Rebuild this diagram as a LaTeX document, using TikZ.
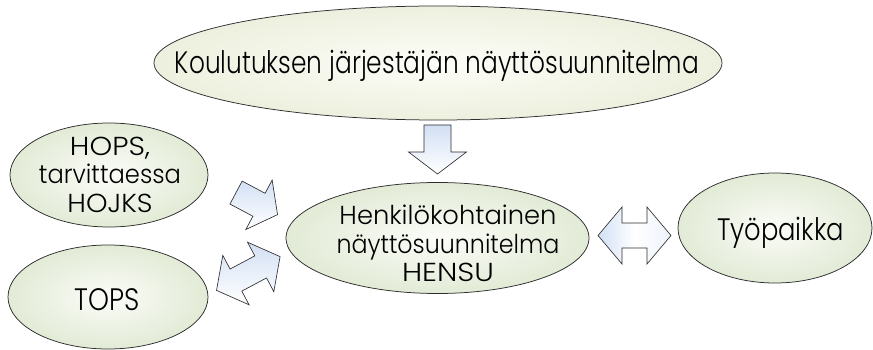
\documentclass[tikz,border=0pt]{standalone}
\usepackage{fontspec}
\setmainfont{Poppins Light}
\usepackage{graphicx}
\usetikzlibrary{shapes.geometric}
\definecolor{edgegray}{RGB}{45,45,45}
\definecolor{ovalin}{RGB}{251,252,248}
\definecolor{ovalout}{RGB}{226,235,214}
\definecolor{topin}{RGB}{253,253,248}
\definecolor{topout}{RGB}{237,240,222}
\definecolor{arrowblue}{RGB}{210,224,244}
\newcommand{\fw}[2]{\resizebox{#1pt}{\height}{#2}}
\tikzset{
  oval/.style={ellipse, draw=edgegray, line width=0.75pt, inner sep=0pt,
    shading=radial, inner color=ovalin, outer color=ovalout},
  topoval/.style={oval, inner color=topin, outer color=topout},
  bigtxt/.style={font=\fontsize{31}{34}\selectfont, inner sep=0pt, text=black},
  smalltxt/.style={font=\fontsize{26}{28.5}\selectfont, inner sep=0pt, align=center, text=black},
  blockarrow/.style={draw=edgegray, line width=0.65pt, line join=miter,
    top color=arrowblue, bottom color=white},
  hblockarrow/.style={draw=edgegray, line width=0.65pt, line join=miter,
    left color=arrowblue, right color=arrowblue!40, middle color=white}
}
\begin{document}
\begin{tikzpicture}[x=1pt,y=-1pt]
\useasboundingbox (0,0) rectangle (873,350);
% ovals
\node[topoval, minimum width=568pt, minimum height=114pt] (plan) at (438,63) {};
\node[oval, minimum width=198pt, minimum height=104pt] (hops) at (109,175) {};
\node[oval, minimum width=200pt, minimum height=104pt] (tops) at (108,297) {};
\node[oval, minimum width=303pt, minimum height=111pt] (hensu) at (437.5,238) {};
\node[oval, minimum width=194pt, minimum height=110pt] (tyo) at (775,228) {};
% texts
\node[bigtxt, anchor=base] (plan-t) at (437,74) {\fw{524}{Koulutuksen järjestäjän näyttösuunnitelma}};
\node[bigtxt, anchor=base] (tyo-t) at (780.5,240.5) {\fw{127}{Työpaikka}};
\node[bigtxt, anchor=base] (tops-t) at (107.5,310) {\fw{65}{TOPS}};
\node[smalltxt] (hops-t) at (110,174.5) {\fw{80}{HOPS,}\\\fw{142}{tarvittaessa}\\\fw{85}{HOJKS}};
\node[smalltxt] (hensu-t) at (448,243.8) {\fw{217}{Henkilökohtainen}\\\fw{223}{näyttösuunnitelma}\\\fw{92}{HENSU}};
% block arrows
\begin{scope}[shift={(437.5,149.5)}, rotate=-90]
\draw[blockarrow] (-24.5,-13.5) -- (2.5,-13.5) -- (2.5,-29) -- (24.5,0) -- (2.5,29) -- (2.5,13.5) -- (-24.5,13.5) -- cycle;
\end{scope}
\begin{scope}[shift={(256.8,203.6)}, rotate=-28]
\draw[blockarrow] (-23.5,-13) -- (2.5,-13) -- (2.5,-28) -- (23.5,0) -- (2.5,28) -- (2.5,13) -- (-23.5,13) -- cycle;
\end{scope}
\begin{scope}[shift={(634.5,235.5)}]
\draw[hblockarrow] (-36.5,0) -- (-12.5,-28.5) -- (-12.5,-12.5) -- (12.5,-12.5) -- (12.5,-28.5) -- (36.5,0) -- (12.5,28.5) -- (12.5,12.5) -- (-12.5,12.5) -- (-12.5,28.5) -- cycle;
\end{scope}
\begin{scope}[shift={(248.3,273.5)}, rotate=28]
\draw[blockarrow] (-36,0) -- (-14,-28) -- (-14,-12.5) -- (14,-12.5) -- (14,-28) -- (36,0) -- (14,28) -- (14,12.5) -- (-14,12.5) -- (-14,28) -- cycle;
\end{scope}
\end{tikzpicture}
\end{document}
